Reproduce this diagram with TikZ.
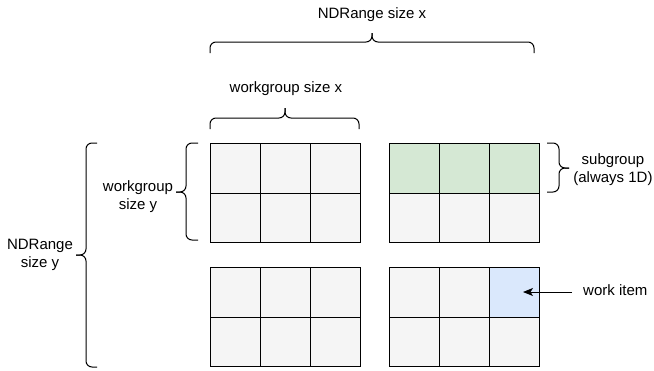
\documentclass[tikz,border=0pt]{standalone}
\usepackage{fontspec}
\setmainfont{Liberation Sans}
\usetikzlibrary{arrows.meta}

\definecolor{cellgray}{HTML}{F5F5F5}
\definecolor{cellgreen}{HTML}{D5E8D4}
\definecolor{cellblue}{HTML}{DAE8FC}

\tikzset{
  cell/.style={draw=black, line width=1pt, fill=cellgray, inner sep=0pt,
    minimum width=50pt, minimum height=49.7pt, anchor=north west},
  brace/.style={draw=black, line width=1pt, rounded corners=6pt},
  lbl/.style={font=\fontsize{15}{18}\selectfont, align=center, inner sep=0pt, text=black},
  arr/.style={draw=black, line width=1pt, -{Stealth[length=10pt,width=8pt,inset=2.5pt]}}
}

\begin{document}
\begin{tikzpicture}[x=1pt, y=-1pt]
  \useasboundingbox (0,0) rectangle (654,370);

  % four 3x2 workgroups: cells named <group><row><col>
  \foreach \g/\gx/\gy in {A/210/143, B/389/143, C/210/267, D/389/267}{
    \foreach \r in {1,2}{
      \foreach \c in {1,2,3}{
        \node[cell] (\g\r\c) at ({\gx+(\c-1)*50}, {\gy+(\r-1)*49.7}) {};
      }
    }
  }
  % subgroup row and highlighted work item
  \foreach \c in {1,2,3}{ \node[cell, fill=cellgreen] (B1\c) at ({389+(\c-1)*50},143) {}; }
  \node[cell, fill=cellblue] (D13) at (489,267) {};

  % horizontal braces
  \draw[brace] (210,53) |- (372,42) -- (372,33);
  \draw[brace] (534,53) |- (372,42) -- (372,33);
  \draw[brace] (210,129) |- (285,118) -- (285,108);
  \draw[brace] (359,129) |- (285,118) -- (285,108);

  % vertical braces
  \draw[brace] (97,143) -| (86,255) -- (76,255);
  \draw[brace] (97,367) -| (86,255) -- (76,255);
  \draw[brace] (198,143) -| (186,192) -- (176,192);
  \draw[brace] (198,240) -| (186,192) -- (176,192);
  \draw[brace] (547,143) -| (559,168) -- (569,168);
  \draw[brace] (547,192) -| (559,168) -- (569,168);

  % labels
  \node[lbl, anchor=base] (ndx) at (372,18.5) {NDRange size x};
  \node[lbl, anchor=base] (wgx) at (286,92) {workgroup size x};
  \node[lbl] (wgy) at (138,197) {workgroup\\size y};
  \node[lbl] (ndy) at (40,255) {NDRange\\size y};
  \node[lbl] (sub) at (613,170) {subgroup\\(always 1D)};
  \node[lbl, anchor=base west] (witem) at (583,295) {work item};

  % pointer to the single work item
  \coordinate (wtip) at (523,292);
  \draw[arr] ([xshift=-11pt]witem.west |- wtip) -- (wtip);
\end{tikzpicture}
\end{document}
